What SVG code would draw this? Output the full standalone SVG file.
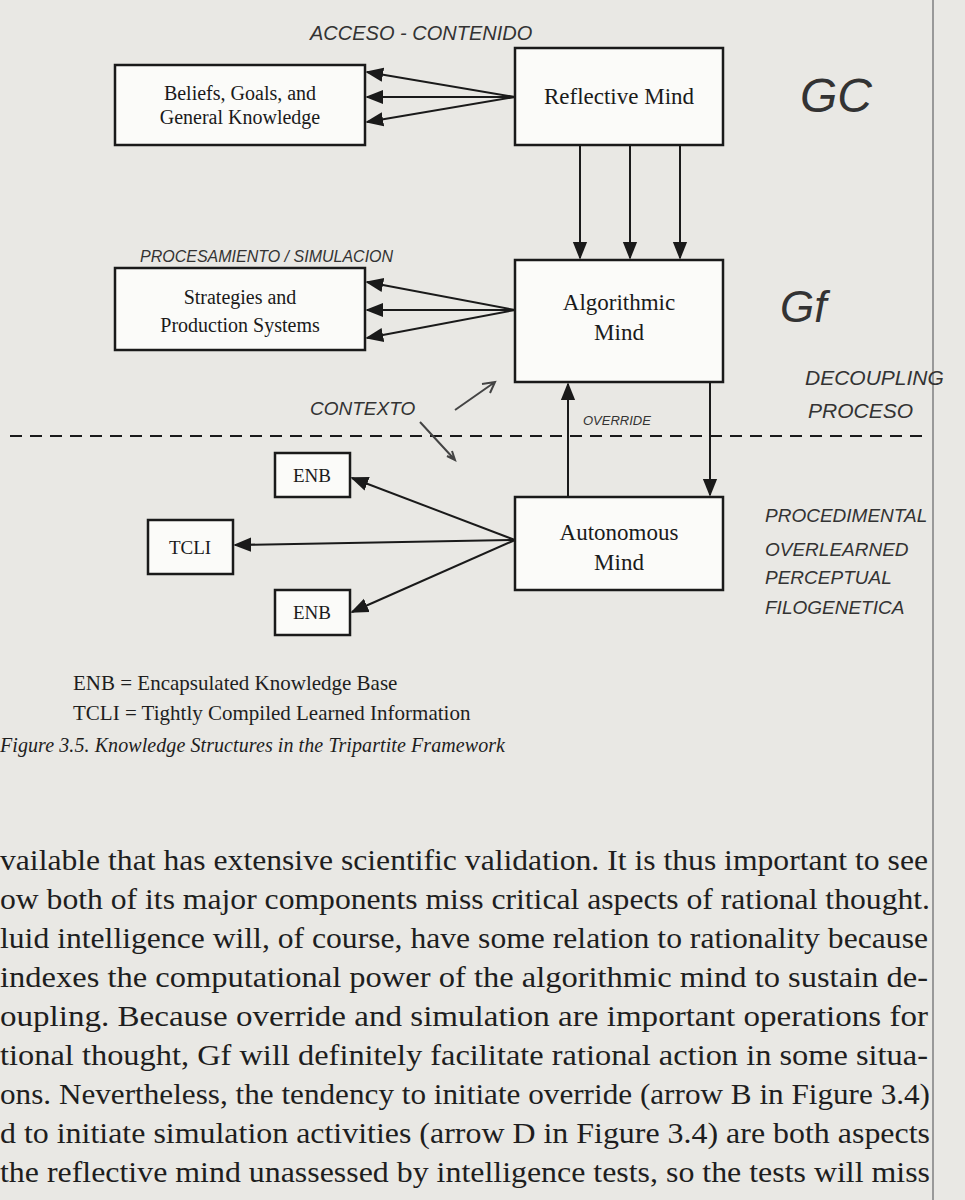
<svg xmlns="http://www.w3.org/2000/svg" width="965" height="1200" viewBox="0 0 965 1200">
<defs>
<style>
.b{fill:#fbfbf9;stroke:#1a1a1a;stroke-width:2.5}
.t{font-family:"Liberation Serif",serif;fill:#1a1a1a;text-anchor:middle}
.h{font-family:"Liberation Sans",sans-serif;fill:#333;font-style:italic}
.c line{stroke:#1a1a1a;stroke-width:2;marker-end:url(#a)}
.p{font-family:"Liberation Serif",serif;fill:#1e1e1e;font-size:29px}
</style>
<marker id="a" viewBox="0 0 10 10" refX="9" refY="5" markerWidth="9" markerHeight="9" orient="auto-start-reverse"><path d="M0,1 L10,5 L0,9 z" fill="#1a1a1a"/></marker>
</defs>
<rect width="965" height="1200" fill="#e9e8e4"/>
<line x1="933" y1="0" x2="933" y2="1200" stroke="#999" stroke-width="2"/>
<g id="n-beliefs"><rect class="b" x="115" y="65" width="250" height="80"/><text class="t" x="240" y="100" font-size="20">Beliefs, Goals, and</text><text class="t" x="240" y="124" font-size="20">General Knowledge</text></g>
<g id="n-reflective"><rect class="b" x="515" y="48" width="208" height="97"/><text class="t" x="619" y="104" font-size="23">Reflective Mind</text></g>
<g id="n-strategies"><rect class="b" x="115" y="268" width="250" height="82"/><text class="t" x="240" y="304" font-size="20">Strategies and</text><text class="t" x="240" y="332" font-size="20">Production Systems</text></g>
<g id="n-algorithmic"><rect class="b" x="515" y="260" width="208" height="122"/><text class="t" x="619" y="310" font-size="23">Algorithmic</text><text class="t" x="619" y="340" font-size="23">Mind</text></g>
<g id="n-autonomous"><rect class="b" x="515" y="497" width="208" height="93"/><text class="t" x="619" y="540" font-size="23">Autonomous</text><text class="t" x="619" y="570" font-size="23">Mind</text></g>
<g id="n-enb1"><rect class="b" x="275" y="453" width="75" height="44"/><text class="t" x="312" y="482" font-size="19">ENB</text></g>
<g id="n-tcli"><rect class="b" x="148" y="520" width="85" height="54"/><text class="t" x="190" y="554" font-size="19">TCLI</text></g>
<g id="n-enb2"><rect class="b" x="275" y="590" width="75" height="45"/><text class="t" x="312" y="619" font-size="19">ENB</text></g>
<g id="connectors" class="c">
<line x1="515" y1="97" x2="367" y2="72"/><line x1="515" y1="97" x2="367" y2="97"/><line x1="515" y1="97" x2="367" y2="122"/>
<line x1="580" y1="145" x2="580" y2="258"/><line x1="630" y1="145" x2="630" y2="258"/><line x1="680" y1="145" x2="680" y2="258"/>
<line x1="515" y1="310" x2="367" y2="282"/><line x1="515" y1="310" x2="367" y2="310"/><line x1="515" y1="310" x2="367" y2="338"/>
<line x1="710" y1="382" x2="710" y2="495"/><line x1="568" y1="497" x2="568" y2="384"/>
<line x1="515" y1="540" x2="352" y2="478"/><line x1="515" y1="540" x2="235" y2="545"/><line x1="515" y1="540" x2="352" y2="612"/>
</g>
<line x1="10" y1="436" x2="930" y2="436" stroke="#1a1a1a" stroke-width="2" stroke-dasharray="12,8"/>
<g id="handwriting" class="h">
<text x="310" y="40" font-size="20">ACCESO - CONTENIDO</text>
<text x="800" y="112" font-size="48">GC</text>
<text x="140" y="262" font-size="16">PROCESAMIENTO / SIMULACION</text>
<text x="780" y="322" font-size="44">Gf</text>
<text x="805" y="385" font-size="21">DECOUPLING</text>
<text x="808" y="418" font-size="21">PROCESO</text>
<text x="310" y="415" font-size="19">CONTEXTO</text>
<text x="583" y="425" font-size="13">OVERRIDE</text>
<text x="765" y="522" font-size="19">PROCEDIMENTAL</text>
<text x="765" y="556" font-size="19">OVERLEARNED</text>
<text x="765" y="584" font-size="19">PERCEPTUAL</text>
<text x="765" y="614" font-size="19">FILOGENETICA</text>
<path d="M455,410 L495,382 M482,384 L495,382 L490,393 M420,422 L455,460 M447,456 L455,460 L452,451" stroke="#444" stroke-width="2" fill="none"/>
</g>
<text class="p" x="73" y="690" style="font-size:21px">ENB = Encapsulated Knowledge Base</text>
<text class="p" x="73" y="720" style="font-size:21px">TCLI = Tightly Compiled Learned Information</text>
<text class="p" x="0" y="752" style="font-size:20px;font-style:italic" textLength="505">Figure 3.5. Knowledge Structures in the Tripartite Framework</text>
<g lengthAdjust="spacingAndGlyphs">
<text class="p" x="0" y="870" textLength="928" lengthAdjust="spacingAndGlyphs">vailable that has extensive scientific validation. It is thus important to see</text>
<text class="p" x="0" y="909" textLength="930" lengthAdjust="spacingAndGlyphs">ow both of its major components miss critical aspects of rational thought.</text>
<text class="p" x="0" y="948" textLength="928" lengthAdjust="spacingAndGlyphs">luid intelligence will, of course, have some relation to rationality because</text>
<text class="p" x="0" y="987" textLength="928" lengthAdjust="spacingAndGlyphs">indexes the computational power of the algorithmic mind to sustain de-</text>
<text class="p" x="0" y="1026" textLength="928" lengthAdjust="spacingAndGlyphs">oupling. Because override and simulation are important operations for</text>
<text class="p" x="0" y="1065" textLength="928" lengthAdjust="spacingAndGlyphs">tional thought, Gf will definitely facilitate rational action in some situa-</text>
<text class="p" x="0" y="1104" textLength="930" lengthAdjust="spacingAndGlyphs">ons. Nevertheless, the tendency to initiate override (arrow B in Figure 3.4)</text>
<text class="p" x="0" y="1143" textLength="930" lengthAdjust="spacingAndGlyphs">d to initiate simulation activities (arrow D in Figure 3.4) are both aspects</text>
<text class="p" x="0" y="1182" textLength="930" lengthAdjust="spacingAndGlyphs">the reflective mind unassessed by intelligence tests, so the tests will miss</text>
</g>
</svg>
